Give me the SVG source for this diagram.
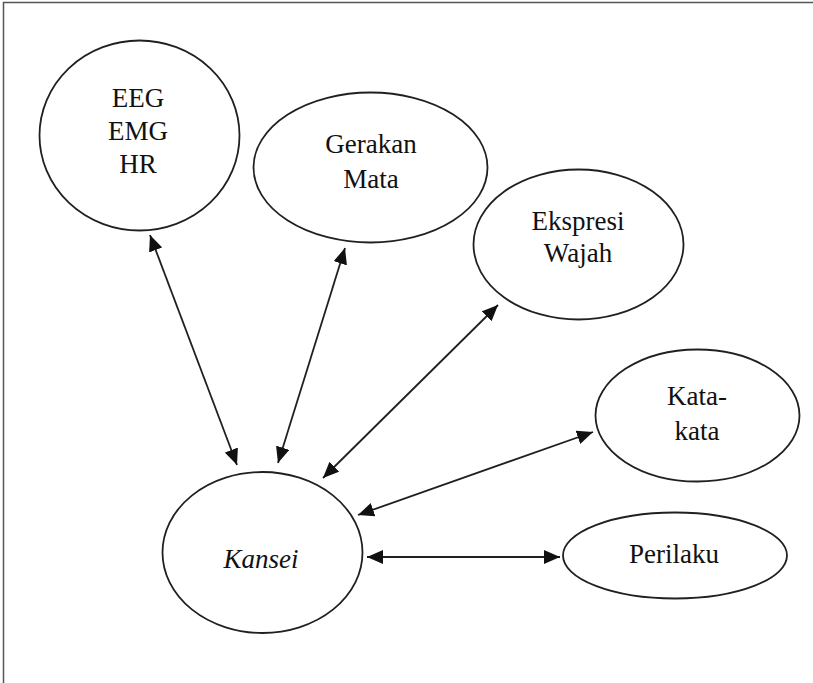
<svg xmlns="http://www.w3.org/2000/svg" width="813" height="683" viewBox="0 0 813 683">
<style>
.n{fill:#fff;stroke:#231f20;stroke-width:1.8}
.t{font-family:'Liberation Serif','DejaVu Serif',serif;font-size:27px;fill:#111;text-anchor:middle}
.c{stroke:#231f20;stroke-width:1.8;fill:none;marker-start:url(#ah);marker-end:url(#ah)}
</style>
<defs>
<marker id="ah" viewBox="0 0 16 14" refX="16" refY="7" markerWidth="16" markerHeight="14" markerUnits="userSpaceOnUse" orient="auto-start-reverse">
<path d="M0,0 L16,7 L0,14 z" fill="#111"/>
</marker>
</defs>
<rect width="813" height="683" fill="#fff"/>
<path d="M3.5,683 V2.5 H813" fill="none" stroke="#555" stroke-width="1.5"/>
<g id="connectors">
<line class="c" x1="237" y1="465" x2="150" y2="235"/>
<line class="c" x1="278" y1="463" x2="345" y2="248"/>
<line class="c" x1="323" y1="478" x2="498" y2="305"/>
<line class="c" x1="358" y1="515" x2="593" y2="432"/>
<line class="c" x1="367" y1="557" x2="560" y2="557"/>
</g>
<g id="eeg">
<ellipse class="n" cx="139.5" cy="135.5" rx="100" ry="95"/>
<text class="t" font-family="Liberation Serif, serif" x="138" y="107">EEG</text>
<text class="t" font-family="Liberation Serif, serif" x="138" y="140">EMG</text>
<text class="t" font-family="Liberation Serif, serif" x="138" y="173">HR</text>
</g>
<g id="gerakan">
<ellipse class="n" cx="370.5" cy="167.5" rx="117" ry="75"/>
<text class="t" font-family="Liberation Serif, serif" x="371" y="153">Gerakan</text>
<text class="t" font-family="Liberation Serif, serif" x="371" y="188">Mata</text>
</g>
<g id="ekspresi">
<ellipse class="n" cx="578.5" cy="244.5" rx="105" ry="75"/>
<text class="t" font-family="Liberation Serif, serif" x="578" y="230">Ekspresi</text>
<text class="t" font-family="Liberation Serif, serif" x="578" y="262">Wajah</text>
</g>
<g id="kata">
<ellipse class="n" cx="697.5" cy="415.5" rx="102" ry="66"/>
<text class="t" font-family="Liberation Serif, serif" x="697" y="405">Kata-</text>
<text class="t" font-family="Liberation Serif, serif" x="697" y="440">kata</text>
</g>
<g id="perilaku">
<ellipse class="n" cx="675" cy="555.5" rx="112" ry="43"/>
<text class="t" font-family="Liberation Serif, serif" x="674" y="563">Perilaku</text>
</g>
<g id="kansei">
<ellipse class="n" cx="262.5" cy="552.5" rx="100" ry="80.5"/>
<text class="t" font-family="Liberation Serif, serif" x="261" y="568" font-style="italic" font-size="33">Kansei</text>
</g>
</svg>
